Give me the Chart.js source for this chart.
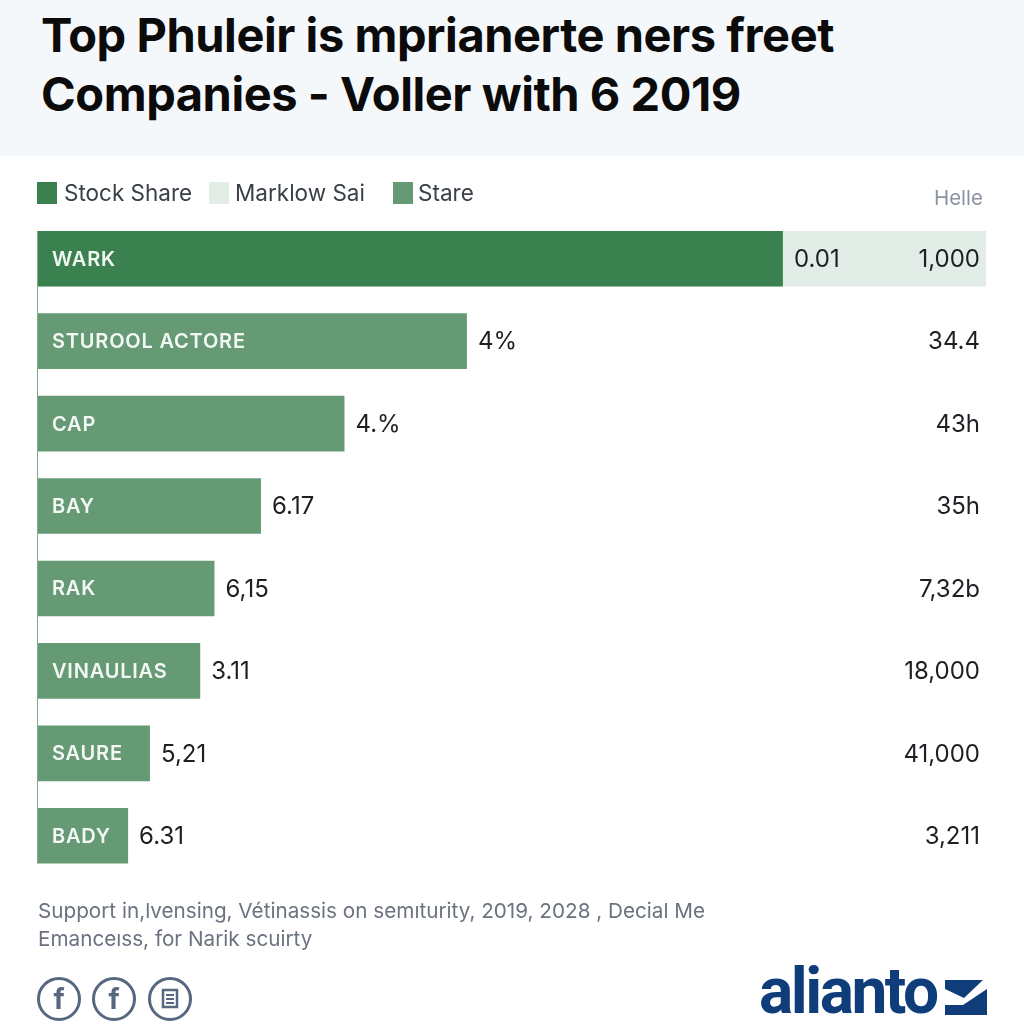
<!DOCTYPE html>
<html>
<head>
<meta charset="utf-8">
<title>Top Phuleir</title>
<script src="https://cdn.jsdelivr.net/npm/chart.js@4"></script>
<style>
    html, body { margin: 0; padding: 0; background: #fff; }
    body { width: 1024px; height: 1024px; position: relative; overflow: hidden; font-family: Inter, sans-serif; }
    #header { position: absolute; left: 0; top: 0; width: 1024px; height: 156px; background: #f5f8fb; }
    #title { position: absolute; left: 41px; top: 5px; margin: 0; font-size: 47px; line-height: 59px; font-weight: 700; color: #0b0b0b; white-space: nowrap; letter-spacing: -0.45px; }
    #chart-box { position: absolute; left: 0; top: 0; width: 1024px; height: 1024px; }
    #legend span { position: absolute; top: 180px; font-size: 22.5px; line-height: 26px; color: #3a4048; white-space: nowrap; }
    #legend i { position: absolute; top: 182px; width: 20px; height: 22px; }
    #helle { position: absolute; right: 41px; top: 186px; font-size: 20.5px; line-height: 24px; color: #8b93a1; }
    #note { position: absolute; left: 38px; top: 897px; font-size: 20.7px; line-height: 28px; color: #6b7280; white-space: nowrap; }
    #icons { position: absolute; left: 0; top: 970px; }
    #logo { position: absolute; left: 759px; top: 954px; font-family: Roboto, sans-serif; font-size: 64px; line-height: 76px; font-weight: 700; color: #0f3d7a; letter-spacing: -2.5px; }
    #mark { position: absolute; left: 945px; top: 978px; }
</style>
</head>
<body>
<div id="header"><h1 id="title">Top Phuleir is mprianerte ners freet<br>Companies - Voller with 6 2019</h1></div>
<div id="chart-box"><canvas id="bar-chart" width="1024" height="1024"></canvas></div>
<div id="legend"></div>
<div id="helle">Helle</div>
<div id="note">Support in,lvensing, Vétinassis on semıturity, 2019, 2028 , Decial Me<br>Emanceıss, for Narik scuirty</div>
<svg id="icons" width="200" height="54" viewBox="0 0 200 54">
    <g fill="none" stroke="#56677f" stroke-width="3">
        <circle cx="59" cy="29" r="20.5"/><circle cx="114" cy="29" r="20.5"/><circle cx="170" cy="29" r="20.5"/>
        <rect x="163" y="20" width="14" height="17" stroke-width="2.5"/>
        <path d="M166 25h8M166 29h8M166 33h8" stroke-width="2"/>
    </g>
    <g fill="#56677f" font-family="Inter" font-weight="700" font-size="28" text-anchor="middle">
        <text x="59" y="39">f</text><text x="114" y="39">f</text>
    </g>
</svg>
<div id="logo">alianto</div>
<svg id="mark" width="42" height="40" viewBox="0 0 42 40" fill="#0f3d7a">
    <path d="M0 2 L38 2 L19 20 L0 11 Z"/>
    <path d="M42 11 L42 37 L0 37 L0 27 L18 27 Z"/>
</svg>

<script>
const companies = ['WARK', 'STUROOL ACTORE', 'CAP', 'BAY', 'RAK', 'VINAULIAS', 'SAURE', 'BADY'];
const stockShare = [78.6, null, null, null, null, null, null, null];
const marklowSai = [21.4, null, null, null, null, null, null, null];
const stare = [null, 45.3, 32.4, 23.6, 18.7, 17.2, 11.9, 9.6];
const shareLabels = ['0.01', '4%', '4.%', '6.17', '6,15', '3.11', '5,21', '6.31'];
const rightLabels = ['1,000', '34.4', '43h', '35h', '7,32b', '18,000', '41,000', '3,211'];

const seriesNames = ['Stock Share', 'Marklow Sai', 'Stare'];
const seriesColors = ['#3b814f', '#e3ede7', '#659a75'];

// names inside the bars, share next to the bar end, right column
const rowLabels = {
    id: 'rowLabels',
    afterDatasetsDraw(chart) {
        const ctx = chart.ctx;
        const area = chart.chartArea;
        const first = chart.getDatasetMeta(0).data[0];
        const last = chart.getDatasetMeta(2).data[companies.length - 1];

        ctx.save();
        ctx.strokeStyle = '#7fa98d';
        ctx.lineWidth = 1;
        ctx.beginPath();
        ctx.moveTo(area.left + 0.5, first.y - first.height / 2);
        ctx.lineTo(area.left + 0.5, last.y + last.height / 2);
        ctx.stroke();

        ctx.textBaseline = 'middle';
        companies.forEach((name, i) => {
            const bar = chart.getDatasetMeta(stockShare[i] != null ? 0 : 2).data[i];

            ctx.font = '600 20px Inter';
            ctx.letterSpacing = '0.8px';
            ctx.fillStyle = '#f3f8f4';
            ctx.textAlign = 'left';
            ctx.fillText(name, area.left + 15, bar.y + 1);

            ctx.font = '400 24px Inter';
            ctx.letterSpacing = '0px';
            ctx.fillStyle = '#1c1f23';
            ctx.fillText(shareLabels[i], bar.x + 11, bar.y + 1);

            ctx.textAlign = 'right';
            ctx.fillText(rightLabels[i], 980, bar.y + 1);
        });
        ctx.restore();
    }
};

const chart = new Chart(document.getElementById('bar-chart'), {
    type: 'bar',
    data: {
        labels: companies,
        datasets: [
            { label: seriesNames[0], data: stockShare, backgroundColor: seriesColors[0] },
            { label: seriesNames[1], data: marklowSai, backgroundColor: seriesColors[1] },
            { label: seriesNames[2], data: stare, backgroundColor: seriesColors[2] }
        ]
    },
    options: {
        indexAxis: 'y',
        responsive: false,
        animation: false,
        layout: { padding: { left: 37, right: 38, top: 217.5, bottom: 147 } },
        datasets: { bar: { categoryPercentage: 1, barPercentage: 0.674 } },
        scales: {
            x: { display: false, stacked: true, min: 0, max: 100 },
            y: { display: false, stacked: true }
        },
        plugins: {
            legend: { display: false },
            tooltip: { enabled: false }
        }
    },
    plugins: [rowLabels]
});

// legend has uneven gaps in the original so it is placed by hand
const legendBox = document.getElementById('legend');
const legendX = [[37, 64], [209, 235], [393, 418]];
seriesNames.forEach((name, i) => {
    const box = document.createElement('i');
    box.style.left = legendX[i][0] + 'px';
    box.style.background = seriesColors[i];
    const text = document.createElement('span');
    text.style.left = legendX[i][1] + 'px';
    text.textContent = name;
    legendBox.append(box, text);
});
</script>
</body>
</html>
